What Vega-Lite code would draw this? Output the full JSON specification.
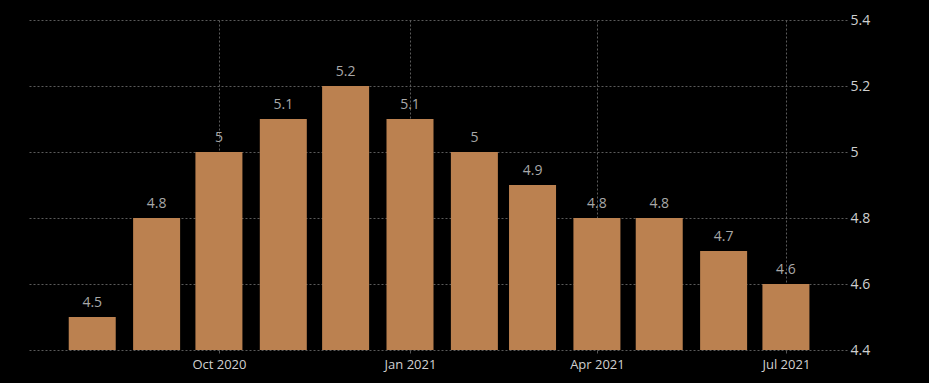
{
  "$schema": "https://vega.github.io/schema/vega-lite/v6.json",
  "width": 820,
  "height": 330,
  "autosize": {"type": "none"},
  "padding": {"left": 27, "top": 20, "right": 82, "bottom": 33},
  "background": "#000000",
  "config": {
    "view": {"stroke": null},
    "font": "Open Sans"
  },
  "data": {
    "values": [
      {"month": "2020-08-01", "value": 4.5},
      {"month": "2020-09-01", "value": 4.8},
      {"month": "2020-10-01", "value": 5.0},
      {"month": "2020-11-01", "value": 5.1},
      {"month": "2020-12-01", "value": 5.2},
      {"month": "2021-01-01", "value": 5.1},
      {"month": "2021-02-01", "value": 5.0},
      {"month": "2021-03-01", "value": 4.9},
      {"month": "2021-04-01", "value": 4.8},
      {"month": "2021-05-01", "value": 4.8},
      {"month": "2021-06-01", "value": 4.7},
      {"month": "2021-07-01", "value": 4.6}
    ]
  },
  "encoding": {
    "x": {
      "field": "month",
      "type": "temporal",
      "scale": {
        "type": "utc",
        "domain": [
          {"year": 2020, "month": 7, "date": 3, "utc": true},
          {"year": 2021, "month": 7, "date": 28, "utc": true}
        ]
      },
      "axis": {
        "title": null,
        "values": [
          {"year": 2020, "month": 10, "date": 1, "utc": true},
          {"year": 2021, "month": 1, "date": 1, "utc": true},
          {"year": 2021, "month": 4, "date": 1, "utc": true},
          {"year": 2021, "month": 7, "date": 1, "utc": true}
        ],
        "format": "%b %Y",
        "labelAngle": 0,
        "labelColor": "#d0d0d0",
        "labelFontSize": 13,
        "labelPadding": 5,
        "tickSize": 3,
        "tickColor": "#555555",
        "domain": false,
        "grid": true,
        "gridColor": "#5a5a5a",
        "gridDash": [2, 2],
        "gridWidth": 1
      }
    },
    "y": {
      "field": "value",
      "type": "quantitative",
      "scale": {"domain": [4.4, 5.4], "zero": false, "nice": false},
      "axis": {
        "title": null,
        "orient": "right",
        "values": [4.4, 4.6, 4.8, 5.0, 5.2, 5.4],
        "format": ".1~f",
        "labelColor": "#d0d0d0",
        "labelFontSize": 14,
        "labelPadding": 3,
        "ticks": false,
        "domain": false,
        "grid": true,
        "gridColor": "#5a5a5a",
        "gridDash": [2, 2],
        "gridWidth": 1
      }
    }
  },
  "layer": [
    {
      "mark": {"type": "bar", "color": "#bb8150", "size": 47},
      "encoding": {"y2": {"datum": 4.4}}
    },
    {
      "mark": {
        "type": "text",
        "baseline": "bottom",
        "dy": -7,
        "color": "#a8a8a8",
        "fontSize": 14
      },
      "encoding": {"text": {"field": "value", "type": "quantitative", "format": ".1~f"}}
    }
  ]
}
